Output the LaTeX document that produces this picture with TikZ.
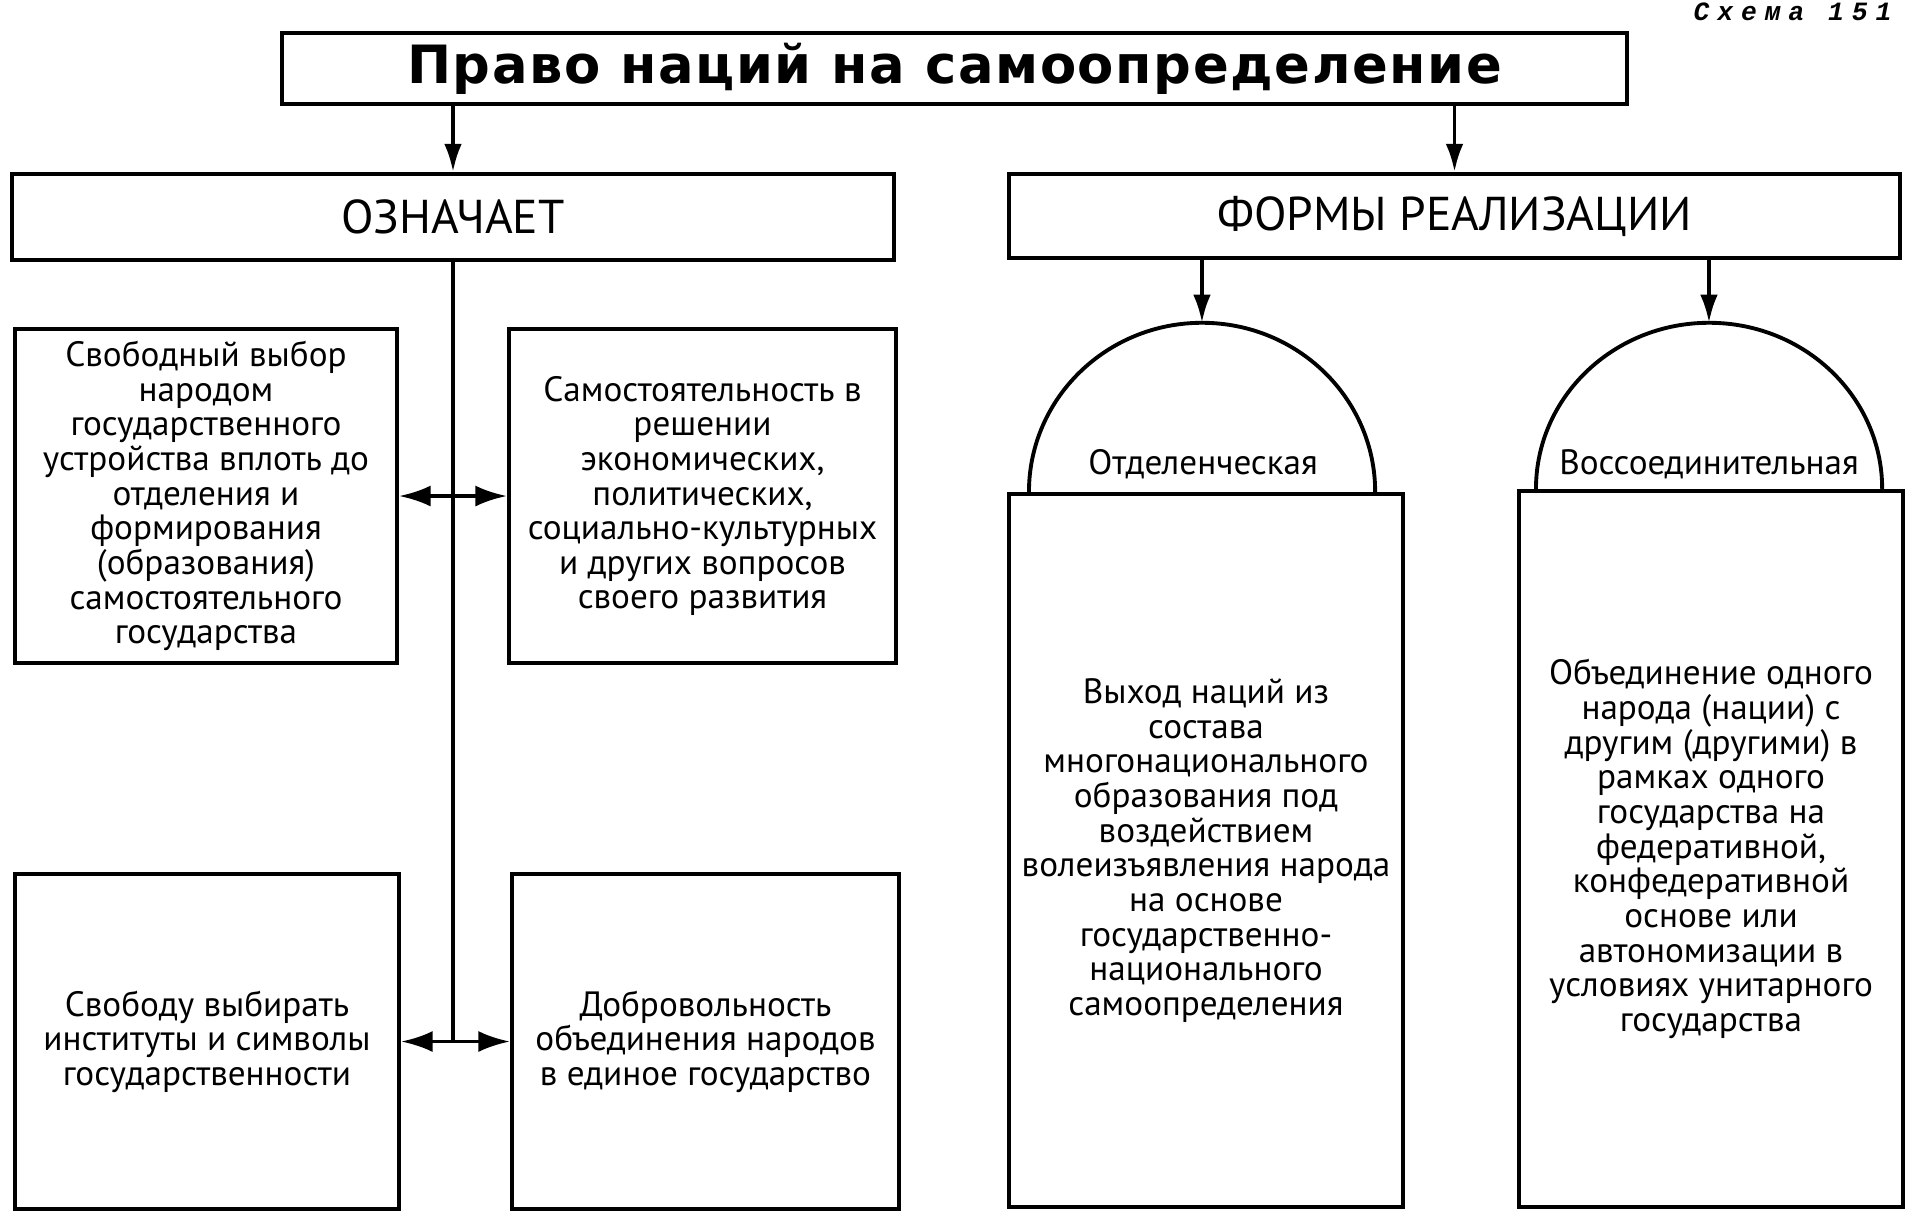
\documentclass[tikz,border=0pt]{standalone}
\usepackage{fontspec}
\setmainfont{PT Sans}
\newfontfamily\titlefont[LetterSpace=3]{DejaVu Sans}
\newfontfamily\schemefont[LetterSpace=30]{Liberation Mono}
\usepackage{tikz}
\usetikzlibrary{shapes,arrows,arrows.meta}
\usetikzlibrary{calc}
\usetikzlibrary{positioning}

\begin{document}
\begin{tikzpicture}[x=0.01cm, y=0.01cm, line width=1.1pt,
	head_box/.style={draw, rectangle, inner sep=0pt, font=\fontsize{13.5}{15}\selectfont},
	text_box/.style={draw, rectangle, inner sep=0pt, align=center, font=\fontsize{10}{9.85}\selectfont},
	dome_label/.style={inner sep=0pt, font=\fontsize{10}{12}\selectfont},
	arrow_line/.style={-{Latex[length=8pt,width=5pt]}},
	both_line/.style={{Latex[length=9pt,width=6pt]}-{Latex[length=9pt,width=6pt]}}]
				\useasboundingbox (0,0) rectangle (1925,-1217);
				\node[anchor=base east, font=\schemefont\bfseries\itshape\fontsize{7.5}{9}\selectfont](scheme) at (1905,-20){Схема 151};
				% top
				\node[head_box, minimum width=13.45cm, minimum height=0.71cm, font=\titlefont\bfseries\fontsize{15}{17}\selectfont](title) at (954.5,-68.5){Право наций на самоопределение};
				\node[head_box, minimum width=8.82cm, minimum height=0.86cm](means) at (453,-217){ОЗНАЧАЕТ};
				\node[head_box, minimum width=8.91cm, minimum height=0.84cm](forms) at (1454.5,-216){ФОРМЫ РЕАЛИЗАЦИИ};
				% left side
				\node[text_box, minimum width=3.82cm, minimum height=3.34cm](b1) at (206,-496){Свободный выбор\\народом\\государственного\\устройства вплоть до\\отделения и\\формирования\\(образования)\\самостоятельного\\государства};
				\node[text_box, minimum width=3.87cm, minimum height=3.34cm](b2) at (702.5,-496){Самостоятельность в\\решении\\экономических,\\политических,\\социально-культурных\\и других вопросов\\своего развития};
				\node[text_box, minimum width=3.84cm, minimum height=3.35cm](b3) at (207,-1041.5){Свободу выбирать\\институты и символы\\государственности};
				\node[text_box, minimum width=3.87cm, minimum height=3.35cm](b4) at (705.5,-1041.5){Добровольность\\объединения народов\\в единое государство};
				% right side
				\node[text_box, minimum width=3.94cm, minimum height=7.13cm](r1) at (1206,-850.5){Выход наций из\\состава\\многонационального\\образования под\\воздействием\\волеизъявления народа\\на основе\\государственно-\\национального\\самоопределения};
				\node[text_box, minimum width=3.84cm, minimum height=7.16cm](r2) at (1711,-849){Объединение одного\\народа (нации) с\\другим (другими) в\\рамках одного\\государства на\\федеративной,\\конфедеративной\\основе или\\автономизации в\\условиях унитарного\\государства};
				\draw ($(r1.north west)+(22,0)$) arc[start angle=180, end angle=0, x radius=1.73cm, y radius=1.69cm];
				\draw ($(r2.north west)+(19,0)$) arc[start angle=180, end angle=0, x radius=1.73cm, y radius=1.66cm];
				\coordinate (top1) at ($(r1.north west)+(195,169)$);
				\coordinate (top2) at ($(r2.north west)+(192,166)$);
				\node[dome_label](d1) at (1203,-464){Отделенческая};
				\node[dome_label](d2) at (1709,-464){Воссоединительная};
				% connectors
				\path[arrow_line]
				(title.south -| means.north) edge (means.north)
				(title.south -| forms.north) edge (forms.north)
				(forms.south -| top1) edge (top1)
				(forms.south -| top2) edge (top2);
				\draw (means.south) -- (means.south |- b3);
				\path[both_line]
				(b1) edge (b2)
				(b3) edge (b4);
			\end{tikzpicture}
\end{document}
